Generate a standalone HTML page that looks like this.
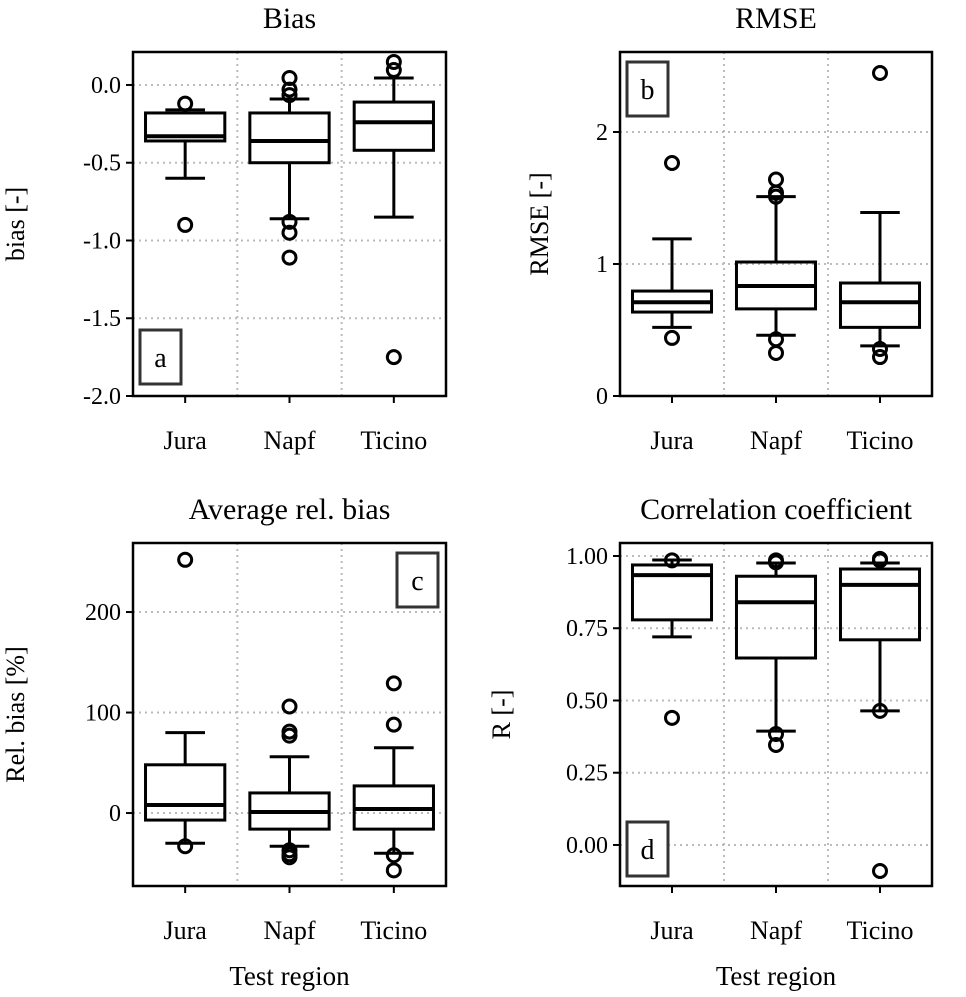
<!DOCTYPE html>
<html><head><meta charset="utf-8"><style>
body{margin:0;background:#fff}
svg text{font-family:"Liberation Serif",serif;fill:#000}
</style></head><body>
<svg id="c" width="966" height="992" xmlns="http://www.w3.org/2000/svg"></svg>
<script>
const categories=["Jura","Napf","Ticino"];
// each stat array: [whislo,q1,med,q3,whishi] per category
const biasStats=[[-0.60,-0.36,-0.33,-0.18,-0.16],[-0.86,-0.50,-0.36,-0.18,-0.09],[-0.85,-0.42,-0.24,-0.11,0.045]];
const biasOut=[[-0.12,-0.90],[0.045,-0.03,-0.065,-0.88,-0.95,-1.11],[0.148,0.096,-1.75]];
const rmseStats=[[0.52,0.636,0.71,0.795,1.19],[0.46,0.66,0.833,1.015,1.51],[0.38,0.52,0.71,0.856,1.39]];
const rmseOut=[[1.765,0.44],[1.64,1.54,1.51,0.43,0.326],[2.447,0.356,0.295]];
const relStats=[[-30,-7,8,48,80],[-33,-16,1,20,56],[-40,-16,4,27,65]];
const relOut=[[252,-33],[106,81,77,-37,-41,-44],[129,88,-42,-57]];
const rStats=[[0.72,0.779,0.934,0.969,0.986],[0.394,0.647,0.84,0.93,0.976],[0.464,0.71,0.90,0.955,0.976]];
const rOut=[[0.985,0.44],[0.985,0.978,0.384,0.346],[0.985,0.99,0.464,-0.09]];
const biasTicks=[0,-0.5,-1,-1.5,-2],biasTickLabels=["0.0","-0.5","-1.0","-1.5","-2.0"];
const rmseTicks=[0,1,2],rmseTickLabels=["0","1","2"];
const relTicks=[0,100,200],relTickLabels=["0","100","200"];
const rTicks=[0,0.25,0.5,0.75,1],rTickLabels=["0.00","0.25","0.50","0.75","1.00"];

const svg=document.getElementById('c');const NS="http://www.w3.org/2000/svg";
function mk(t,a,p){const e=document.createElementNS(NS,t);for(const k in a)e.setAttribute(k,a[k]);(p||svg).appendChild(e);return e;}
function panel(o){
 const g=mk('g',{});
 
 
 const {x0,x1,y0,y1,vmin,vmax}=o;
 const ys=v=>y1-(v-vmin)/(vmax-vmin)*(y1-y0);
 const xs=i=>x0+(i+0.5)/3*(x1-x0);
 // grid
 o.ticks.forEach(t=>{const l=mk('line',{x1:x0,x2:x1,y1:ys(t),y2:ys(t),stroke:'#bbb','stroke-width':2,'stroke-dasharray':'2,4'},g);});
 [1,2].forEach(i=>{const xx=x0+i/3*(x1-x0);const l=mk('line',{x1:xx,x2:xx,y1:y0,y2:y1,stroke:'#bbb','stroke-width':2,'stroke-dasharray':'2,4'},g);});
 // boxes
 const bw=(x1-x0)/3*0.76;
 o.stats.forEach((s,i)=>{
  const cx=xs(i);const bg=mk('g',{},g);
  
  
  const st={stroke:'#000','stroke-width':3,fill:'none'};
  mk('line',Object.assign({x1:cx,x2:cx,y1:ys(s[0]),y2:ys(s[1])},st),bg);
  mk('line',Object.assign({x1:cx,x2:cx,y1:ys(s[3]),y2:ys(s[4])},st),bg);
  mk('line',Object.assign({x1:cx-bw/4,x2:cx+bw/4,y1:ys(s[0]),y2:ys(s[0])},st),bg);
  mk('line',Object.assign({x1:cx-bw/4,x2:cx+bw/4,y1:ys(s[4]),y2:ys(s[4])},st),bg);
  mk('rect',Object.assign({x:cx-bw/2,y:ys(s[3]),width:bw,height:ys(s[1])-ys(s[3])},st),bg);
  mk('line',{x1:cx-bw/2,x2:cx+bw/2,y1:ys(s[2]),y2:ys(s[2]),stroke:'#000','stroke-width':4},bg);
  o.out[i].forEach(v=>{const c=mk('circle',{cx:cx,cy:ys(v),r:6.5,fill:'none',stroke:'#000','stroke-width':3},bg);});
  const t=mk('text',{x:cx,y:y1+53,'font-size':26,'text-anchor':'middle'},g);t.textContent=categories[i];
  
  mk('line',{x1:cx,x2:cx,y1:y1,y2:y1+7,stroke:'#000','stroke-width':2},g);
 });
 o.ticks.forEach((t,i)=>{mk('line',{x1:x0-7,x2:x0,y1:ys(t),y2:ys(t),stroke:'#000','stroke-width':2},g);
  const tx=mk('text',{x:x0-12,y:ys(t)+8,'font-size':24,'text-anchor':'end'},g);tx.textContent=o.labels[i];
  });
 mk('rect',{x:x0,y:y0,width:x1-x0,height:y1-y0,fill:'none',stroke:'#000','stroke-width':2.5},g);
 const ti=mk('text',{x:(x0+x1)/2,y:y0-24,'font-size':30,'text-anchor':'middle'},g);ti.textContent=o.title;
 
 const yl=mk('text',{x:0,y:0,'font-size':26,'text-anchor':'middle',transform:`translate(${o.ylx},${(y0+y1)/2}) rotate(-90)`},g);yl.textContent=o.ylabel;
 
 mk('rect',{x:o.lx,y:o.ly,width:41,height:54,fill:'#fff',stroke:'#333','stroke-width':3},g);
 const lt=mk('text',{x:o.lx+20.5,y:o.ly+37,'font-size':28,'text-anchor':'middle'},g);lt.textContent=o.letter;
 
 if(o.xlabel){const xl=mk('text',{x:(x0+x1)/2,y:985,'font-size':27,'text-anchor':'middle'},g);xl.textContent=o.xlabel;
  }
}
panel({name:'bias-panel',x0:133,x1:446,y0:52,y1:396,vmin:-2,vmax:0.212,stats:biasStats,out:biasOut,ticks:biasTicks,labels:biasTickLabels,title:'Bias',ylabel:'bias [-]',ylx:24,letter:'a',lx:140,ly:330});
panel({name:'rmse-panel',x0:620,x1:932,y0:52,y1:396,vmin:0,vmax:2.606,stats:rmseStats,out:rmseOut,ticks:rmseTicks,labels:rmseTickLabels,title:'RMSE',ylabel:'RMSE [-]',ylx:548,letter:'b',lx:627,ly:62});
panel({name:'relbias-panel',x0:133,x1:446,y0:543,y1:886,vmin:-72.6,vmax:268.7,stats:relStats,out:relOut,ticks:relTicks,labels:relTickLabels,title:'Average rel. bias',ylabel:'Rel. bias [%]',ylx:24,letter:'c',lx:397,ly:553,xlabel:'Test region'});
panel({name:'corr-panel',x0:620,x1:932,y0:543,y1:886,vmin:-0.142,vmax:1.045,stats:rStats,out:rOut,ticks:rTicks,labels:rTickLabels,title:'Correlation coefficient',ylabel:'R [-]',ylx:510,letter:'d',lx:627,ly:822,xlabel:'Test region'});
</script>
</body></html>
